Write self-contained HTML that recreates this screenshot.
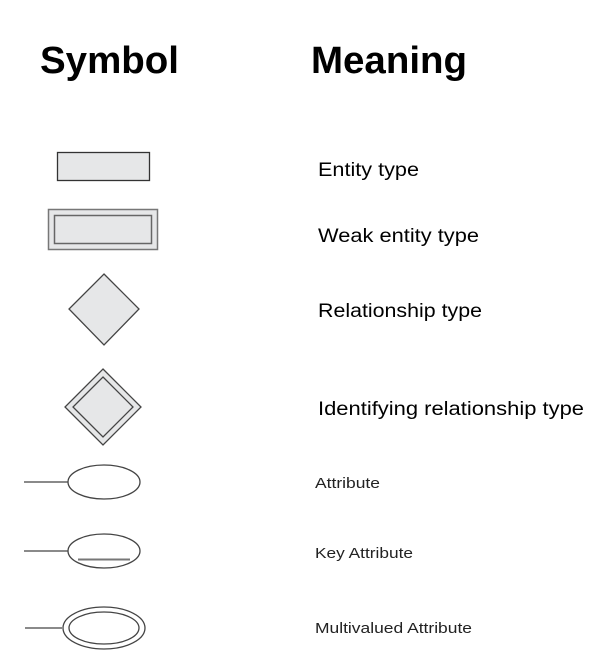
<!DOCTYPE html>
<html><head><meta charset="utf-8"><style>html,body{margin:0;padding:0;background:#fff}svg{display:block}</style></head>
<body>
<svg width="595" height="664" viewBox="0 0 595 664" xmlns="http://www.w3.org/2000/svg">
<g font-family="Liberation Sans, Arial, sans-serif" font-weight="bold" font-size="38" fill="#000">
<text x="40" y="73" textLength="139" lengthAdjust="spacingAndGlyphs">Symbol</text>
<text x="311" y="73" textLength="156" lengthAdjust="spacingAndGlyphs">Meaning</text>
</g>
<g font-family="Liberation Sans, Arial, sans-serif" font-size="19" fill="#000">
<text x="318" y="176" textLength="101" lengthAdjust="spacingAndGlyphs">Entity type</text>
<text x="318" y="242" textLength="161" lengthAdjust="spacingAndGlyphs">Weak entity type</text>
<text x="318" y="317" textLength="164" lengthAdjust="spacingAndGlyphs">Relationship type</text>
<text x="318" y="415" textLength="266" lengthAdjust="spacingAndGlyphs">Identifying relationship type</text>
</g>
<g font-family="Liberation Sans, Arial, sans-serif" font-size="15" fill="#222">
<text x="315" y="488" textLength="65" lengthAdjust="spacingAndGlyphs">Attribute</text>
<text x="315" y="558" textLength="98" lengthAdjust="spacingAndGlyphs">Key Attribute</text>
<text x="315" y="633" textLength="157" lengthAdjust="spacingAndGlyphs">Multivalued Attribute</text>
</g>
<g stroke="#555" stroke-width="1.3" fill="#e6e7e8">
<rect x="57.5" y="152.5" width="92" height="28" stroke="#333"/>
<rect x="48.5" y="209.5" width="109" height="40" stroke="#777" stroke-width="1.5"/>
<rect x="54.5" y="215.5" width="97" height="28" stroke="#666" stroke-width="1.5"/>
<polygon points="104,274 139,309 104,345 69,309" stroke="#444"/>
<polygon points="103,369 141,407 103,445 65,407" stroke="#444"/>
<polygon points="103,377 133,407 103,437 73,407" stroke="#444"/>
</g>
<g stroke="#444" stroke-width="1.3" fill="#fff">
<line x1="24" y1="482" x2="68" y2="482"/>
<ellipse cx="104" cy="482" rx="36" ry="17"/>
<line x1="24" y1="551" x2="68" y2="551"/>
<ellipse cx="104" cy="551" rx="36" ry="17"/>
<line x1="78" y1="559.5" x2="130" y2="559.5" stroke="#777" stroke-width="2"/>
<line x1="25" y1="628" x2="62" y2="628"/>
<ellipse cx="104" cy="628" rx="41" ry="21"/>
<ellipse cx="104" cy="628" rx="35" ry="16"/>
</g>
</svg>
</body></html>
